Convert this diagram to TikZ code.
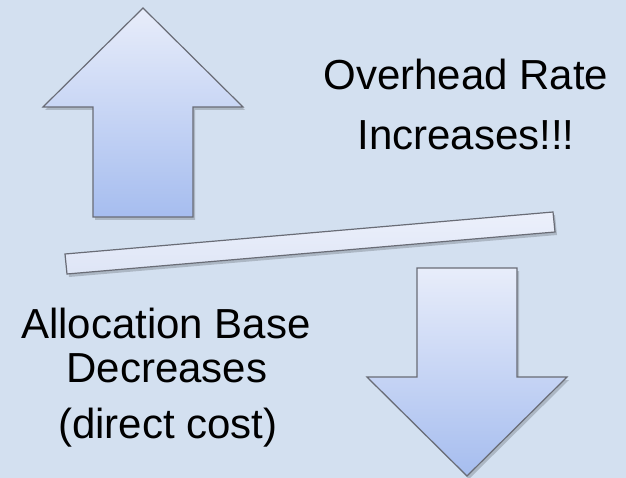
\documentclass[tikz,border=0pt]{standalone}
\usepackage{fontspec}
\setmainfont{Liberation Sans}
\begin{document}
\begin{tikzpicture}[x=1pt,y=-1pt,
  lbl/.style={font=\fontsize{42}{50}\selectfont, text=black, inner sep=0pt, anchor=base},
  edge/.style={draw=edgec, line width=1.2pt, line join=miter},
  shadowc/.style={fill=black, opacity=0.18}]
\definecolor{bgc}{RGB}{211,224,240}
\definecolor{edgec}{RGB}{105,108,118}
\definecolor{arrtop}{RGB}{232,237,250}
\definecolor{arrbot}{RGB}{166,189,239}
\definecolor{bartop}{RGB}{236,240,251}
\definecolor{barbot}{RGB}{222,229,246}
\fill[bgc] (0,0) rectangle (626,478);
\useasboundingbox (0,0) rectangle (626,478);
% up arrow
\fill[shadowc] (145,11) -- (245,110) -- (195,110) -- (195,220) -- (95,220) -- (95,110) -- (45,110) -- cycle;
\shade[top color=arrtop, bottom color=arrbot] (143,8) -- (243,107) -- (193,107) -- (193,217) -- (93,217) -- (93,107) -- (43,107) -- cycle;
\draw[edge] (143,8) -- (243,107) -- (193,107) -- (193,217) -- (93,217) -- (93,107) -- (43,107) -- cycle;
% down arrow
\fill[shadowc] (419,271) -- (519,271) -- (519,380) -- (569,380) -- (469,479) -- (369,380) -- (419,380) -- cycle;
\shade[top color=arrtop, bottom color=arrbot] (417,268) -- (517,268) -- (517,377) -- (567,377) -- (467,476) -- (367,377) -- (417,377) -- cycle;
\draw[edge] (417,268) -- (517,268) -- (517,377) -- (567,377) -- (467,476) -- (367,377) -- (417,377) -- cycle;
% lever bar
\fill[shadowc] (67,257) -- (555,215) -- (557,235) -- (69,277) -- cycle;
\shade[top color=bartop, bottom color=barbot] (65,254) -- (553,212) -- (555,232) -- (67,274) -- cycle;
\draw[edge] (65,254) -- (553,212) -- (555,232) -- (67,274) -- cycle;
% texts
\node[lbl] (t1) at (466,90) {Overhead Rate};
\node[lbl] (t2) at (466,150) {Increases!!!};
\node[lbl] (t3) at (166,338) {Allocation Base};
\node[lbl] (t4) at (167,382) {Decreases};
\node[lbl] (t5) at (168,438) {(direct cost)};
\end{tikzpicture}
\end{document}
